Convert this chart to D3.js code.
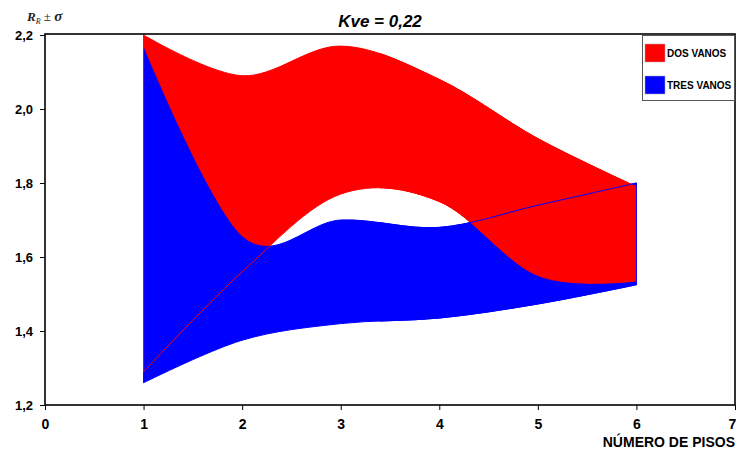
<!DOCTYPE html>
<html>
<head>
<meta charset="utf-8">
<script src="https://cdn.jsdelivr.net/npm/d3@7"></script>
<style>
  body { margin: 0; background: #fff; }
  svg { display: block; font-family: "Liberation Sans", Arial, sans-serif; }
</style>
</head>
<body>
<div id="chart"></div>
<script>
// numero de pisos
const pisos = [1, 2, 3, 4, 5, 6];
// DOS VANOS: R +/- sigma
const dosSup = [2.20, 2.09, 2.17, 2.08, 1.92, 1.79];
const dosInf = [1.29, 1.56, 1.77, 1.75, 1.55, 1.535];
// TRES VANOS: R +/- sigma
const tresSup = [2.165, 1.655, 1.70, 1.68, 1.74, 1.80];
const tresInf = [1.26, 1.375, 1.42, 1.435, 1.473, 1.525];

const xTicks = [0, 1, 2, 3, 4, 5, 6, 7];
const yTicks = [1.2, 1.4, 1.6, 1.8, 2.0, 2.2];
const series = ["DOS VANOS", "TRES VANOS"];

const width = 737, height = 459,
  margin = ({ top: 35, right: 2, bottom: 54, left: 45 });

const svg = d3.select("#chart")
  .append("svg")
  .attr("width", width)
  .attr("height", height);

const x = d3.scaleLinear([0, 7], [margin.left, width - margin.right]);
const y = d3.scaleLinear([1.2, 2.2], [height - margin.bottom, margin.top]);

const coma = d => d3.format(".1f")(d).replace(".", ",");

const color = d3.scaleOrdinal(series, ["#ff0000", "#0000ff"]);

const band = (lo, hi) => d3.area()
  .x((d, i) => x(pisos[i]))
  .y0((d, i) => y(lo[i]))
  .y1((d, i) => y(hi[i]))
  .curve(d3.curveCardinal.tension(0))(pisos);

const bands = {
  dos: { path: band(dosInf, dosSup), color: color("DOS VANOS") },
  tres: { path: band(tresInf, tresSup), color: color("TRES VANOS") }
};

// the two bands swap which one is on top in the gap around 3.4 pisos
const cut = Math.round(x(3.4));
svg.append("defs").append("clipPath").attr("id", "der")
  .append("rect").attr("x", cut).attr("y", 0).attr("width", width - cut).attr("height", height);

function layer(order, clip) {
  const g = svg.append("g");
  if (clip) g.attr("clip-path", `url(#${clip})`);
  order.forEach(k => g.append("path").attr("d", bands[k].path).attr("fill", bands[k].color));
  order.slice().reverse().forEach(k => g.append("path").attr("d", bands[k].path)
    .attr("fill", "none").attr("stroke", bands[k].color).attr("stroke-width", 1));
}
layer(["dos", "tres"]);
layer(["tres", "dos"], "der");

// axes
svg.append("g")
  .attr("transform", `translate(0,${height - margin.bottom})`)
  .call(d3.axisBottom(x).tickValues(xTicks).tickFormat(d3.format("d")).tickSize(5).tickPadding(9))
  .call(g => g.select(".domain").remove())
  .call(g => g.selectAll("line").attr("stroke", "#000"))
  .call(g => g.selectAll("text").attr("font-size", 14).attr("font-weight", "bold")
    .attr("font-family", "Liberation Sans, Arial").attr("fill", "#000")
    .attr("dx", d => d === 7 ? -3 : 0));

svg.append("g")
  .attr("transform", `translate(${margin.left},0)`)
  .call(d3.axisLeft(y).tickValues(yTicks).tickFormat(coma).tickSize(5).tickPadding(7))
  .call(g => g.select(".domain").remove())
  .call(g => g.selectAll("line").attr("stroke", "#000"))
  .call(g => g.selectAll("text").attr("font-size", 13).attr("font-weight", "bold")
    .attr("font-family", "Liberation Sans, Arial").attr("fill", "#000"));

// plot frame
svg.append("rect")
  .attr("x", margin.left).attr("y", margin.top - 1)
  .attr("width", width - margin.left - margin.right)
  .attr("height", height - margin.top - margin.bottom + 1)
  .attr("fill", "none").attr("stroke", "#000").attr("stroke-width", 1.6);

// title
svg.append("text")
  .attr("x", 380).attr("y", 27)
  .attr("text-anchor", "middle")
  .style("font-size", "17px").style("font-weight", "bold").style("font-style", "italic")
  .text("Kve = 0,22");

// y label R_R ± sigma
const yl = svg.append("text")
  .attr("x", 27).attr("y", 21)
  .style("font-family", "Liberation Serif, Times New Roman, serif")
  .style("font-size", "13px").attr("fill", "#222");
yl.append("tspan").style("font-weight", "bold").style("font-style", "italic").text("R");
yl.append("tspan").attr("dy", 3).style("font-size", "8px").style("font-style", "italic").text("R");
yl.append("tspan").attr("dy", -3).text(" \u00b1 ");
yl.append("tspan").style("font-weight", "bold").style("font-style", "italic").style("font-size", "15px").text("\u03c3");

// x label
svg.append("text")
  .attr("x", width - 2).attr("y", 447)
  .attr("text-anchor", "end")
  .style("font-size", "14px").style("font-weight", "bold")
  .text("NÚMERO DE PISOS");

// legend
const leg = svg.append("g");
leg.append("rect")
  .attr("x", 642.5).attr("y", 35.5).attr("width", 92).attr("height", 65)
  .attr("fill", "#fff").attr("stroke", "#555").attr("stroke-width", 1);
series.forEach((s, i) => {
  leg.append("rect")
    .attr("x", 645).attr("y", 44 + i * 32).attr("width", 20).attr("height", 18)
    .attr("fill", color(s)).attr("stroke", "#aaa").attr("stroke-width", 0.5);
  leg.append("text")
    .attr("x", 667).attr("y", 57 + i * 32)
    .style("font-size", "10px").style("font-weight", "bold")
    .text(s);
});
</script>
</body>
</html>
